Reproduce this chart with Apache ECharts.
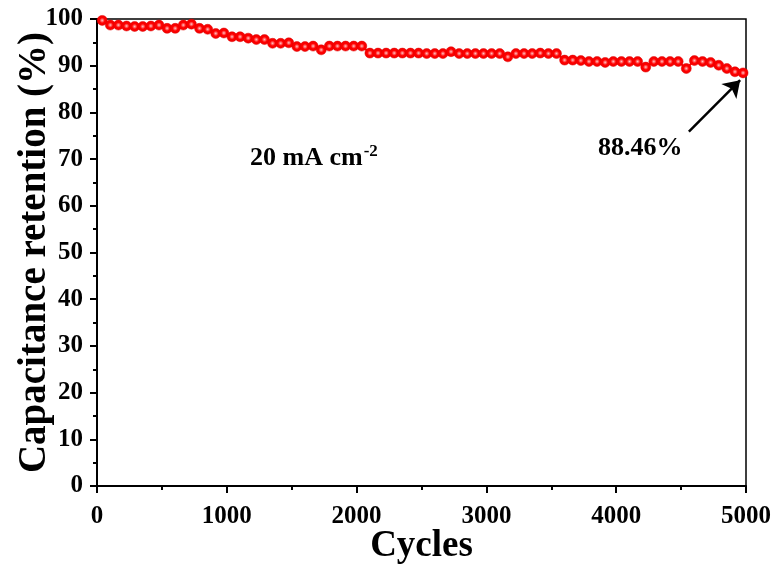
<!DOCTYPE html>
<html>
<head>
<meta charset="utf-8">
<script src="https://cdn.jsdelivr.net/npm/echarts@6/dist/echarts.min.js"></script>
<style>
  html, body { margin: 0; padding: 0; background: #fff; }
  #retentionChart { width: 772px; height: 565px; }
</style>
</head>
<body>
<div id="retentionChart"></div>
<script>
// sampling grid of the cycling test (one point roughly every 62.5 cycles)
var firstCycle = 40
var cycleStep = 62.5
var retention = [
  99.7, 98.7, 98.7, 98.5, 98.4, 98.4, 98.5, 98.7, 98.0, 98.0,
  98.7, 98.9, 98.0, 97.8, 96.9, 97.0, 96.2, 96.2, 95.9, 95.6,
  95.6, 94.8, 94.8, 94.9, 94.1, 94.1, 94.2, 93.4, 94.2, 94.2,
  94.2, 94.2, 94.2, 92.7, 92.7, 92.7, 92.7, 92.7, 92.7, 92.7,
  92.6, 92.6, 92.6, 93.0, 92.6, 92.6, 92.6, 92.6, 92.6, 92.6,
  91.9, 92.6, 92.6, 92.6, 92.7, 92.6, 92.6, 91.2, 91.2, 91.1,
  90.9, 90.9, 90.7, 90.9, 90.9, 90.9, 90.9, 89.7, 90.9, 90.9,
  90.9, 90.9, 89.4, 91.1, 90.9, 90.7, 90.1, 89.4, 88.7, 88.46
]
var xTicks = [0, 1000, 2000, 3000, 4000, 5000]
var yTicks = [0, 10, 20, 30, 40, 50, 60, 70, 80, 90, 100]
// arrow pointing at the last point: [cycle, retention] for tail and head
var arrowTail = [4560, 75.9]
var arrowHead = [4955, 86.9]

var serif = "'Liberation Serif', 'Times New Roman', serif"

var points = retention.map(function (v, i) {
  return [firstCycle + i * cycleStep, v]
})

var dotFill = {
  type: 'radial', x: 0.5, y: 0.5, r: 0.5,
  colorStops: [
    { offset: 0, color: '#ffc8c8' },
    { offset: 0.22, color: '#ff6a6a' },
    { offset: 0.5, color: '#ff0000' },
    { offset: 1, color: '#f00000' }
  ]
}

var chart = echarts.init(document.getElementById('retentionChart'))

var option = {
  animation: false,
  backgroundColor: '#fff',
  grid: {
    left: 97, right: 26, top: 19, bottom: 79,
    containLabel: false, outerBoundsMode: 'none',
    show: true, borderColor: '#000', borderWidth: 1.5
  },
  xAxis: {
    type: 'value',
    min: xTicks[0], max: xTicks[xTicks.length - 1], interval: 1000,
    name: 'Cycles', nameLocation: 'middle', nameGap: 42, nameMoveOverlap: false,
    nameTextStyle: { fontFamily: serif, fontWeight: 'bold', fontSize: 37, color: '#000' },
    axisLine: { lineStyle: { color: '#000', width: 2 } },
    axisTick: { inside: false, length: 7, lineStyle: { color: '#000', width: 2 } },
    minorTick: { show: true, splitNumber: 2, length: 4, lineStyle: { color: '#000', width: 2 } },
    axisLabel: {
      fontFamily: serif, fontWeight: 'bold', fontSize: 25, color: '#000', margin: 18,
      formatter: function (v) { return String(v) }
    },
    splitLine: { show: false }
  },
  yAxis: {
    type: 'value',
    min: yTicks[0], max: yTicks[yTicks.length - 1], interval: 10,
    name: 'Capacitance retention (%)', nameLocation: 'middle', nameGap: 43, nameMoveOverlap: false,
    nameTextStyle: { fontFamily: serif, fontWeight: 'bold', fontSize: 39, color: '#000' },
    axisLine: { lineStyle: { color: '#000', width: 2 } },
    axisTick: { inside: false, length: 7, lineStyle: { color: '#000', width: 2 } },
    minorTick: { show: true, splitNumber: 2, length: 4, lineStyle: { color: '#000', width: 2 } },
    axisLabel: { fontFamily: serif, fontWeight: 'bold', fontSize: 25, color: '#000', margin: 14 },
    splitLine: { show: false }
  },
  series: [
    {
      type: 'line',
      data: points,
      symbol: 'circle',
      symbolSize: 10,
      lineStyle: { color: '#ff0000', width: 2 },
      itemStyle: { color: dotFill, borderColor: '#e00000', borderWidth: 0.5 },
      markLine: {
        silent: true,
        symbol: ['none', 'arrow'],
        symbolSize: 16,
        label: { show: false },
        lineStyle: { color: '#000', width: 2.5, type: 'solid' },
        data: [[{ coord: arrowTail }, { coord: arrowHead }]]
      }
    }
  ],
  graphic: [
    {
      type: 'text', left: 250, top: 143,
      style: {
        text: '{a|20 mA cm}{s|-2}',
        rich: {
          a: { fontFamily: serif, fontWeight: 'bold', fontSize: 26, fill: '#000' },
          s: { fontFamily: serif, fontWeight: 'bold', fontSize: 17, fill: '#000', padding: [0, 0, 13, 1] }
        }
      }
    },
    {
      type: 'text', left: 598, top: 135,
      style: { text: '88.46%', fontFamily: serif, fontWeight: 'bold', fontSize: 26, fill: '#000' }
    }
  ]
}

chart.setOption(option)
</script>
</body>
</html>
